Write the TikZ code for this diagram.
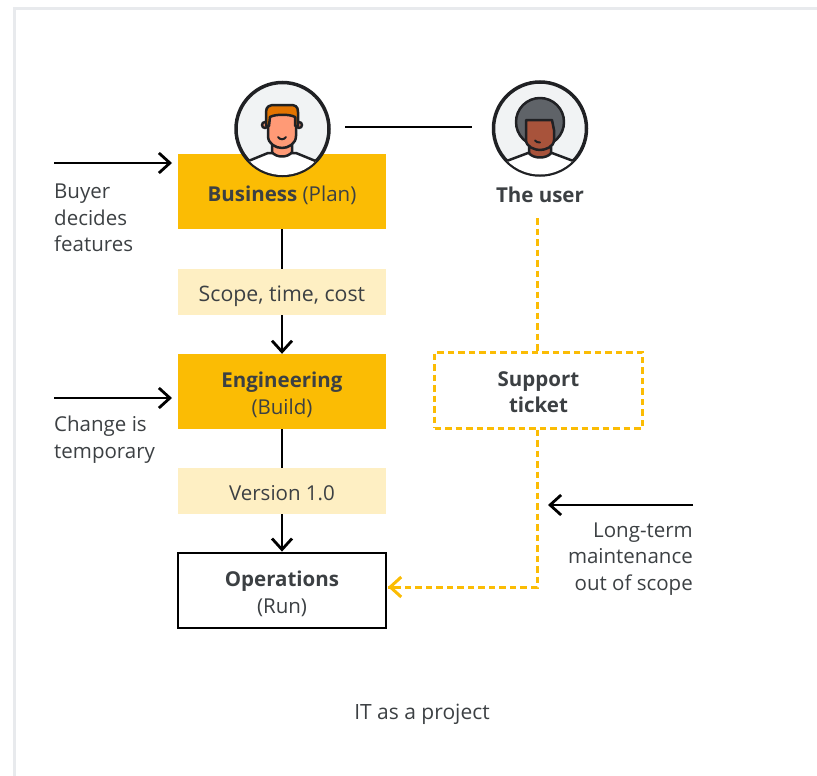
\documentclass[tikz,border=0pt]{standalone}
\usepackage{fontspec}
\setmainfont{Open Sans}
\usetikzlibrary{arrows.meta}
\definecolor{phaseyellow}{HTML}{FBBC04}
\definecolor{notecream}{HTML}{FEEFC3}
\definecolor{inkdark}{HTML}{3C4043}
\definecolor{framegray}{HTML}{E8EAED}
\definecolor{avatarbg}{HTML}{F1F3F4}
\definecolor{linedark}{HTML}{202124}
\definecolor{hairorange}{HTML}{E37400}
\definecolor{skinlight}{HTML}{FF9A76}
\definecolor{skindark}{HTML}{A8533B}
\definecolor{hairgray}{HTML}{5F6368}
\tikzset{
  basebox/.style={rectangle, minimum width=208pt, align=center, inner sep=0pt, text=inkdark, text height=23pt, text depth=4pt, font=\fontsize{20.5}{26.5}\selectfont},
  twolines/.style={text height=49.5pt},
  phasebox/.style={basebox, fill=phaseyellow, minimum height=75pt},
  notebox/.style={basebox, fill=notecream, minimum height=46pt},
  runbox/.style={basebox, draw=black, line width=2.8pt, minimum height=75pt},
  ticketbox/.style={basebox, draw=phaseyellow, line width=3pt, dash pattern=on 6.5pt off 4pt, minimum height=76pt},
  caption/.style={inner sep=0pt, text=inkdark, font=\fontsize{20.5}{26.5}\selectfont},
  flow/.style={line width=2.8pt, black},
  flowarrow/.style={flow, -{Straight Barb[length=11pt, width=20pt, line width=2.8pt]}},
  ticketline/.style={line width=3pt, phaseyellow, dash pattern=on 6.5pt off 4pt},
  avatar/.style={circle, draw=linedark, line width=3.5pt, fill=avatarbg, minimum size=93pt, inner sep=0pt},
  figline/.style={draw=linedark, line width=2.5pt, line join=round}
}
\begin{document}
\begin{tikzpicture}[x=1pt, y=-1pt, node distance=100pt]
    \useasboundingbox (0,0) rectangle (817,776);
    \draw[framegray, line width=3pt] (14.5,776) -- (14.5,8.5) -- (817,8.5);

    % Nodes
    \node (business) [phasebox] at (282,191.5) {\textbf{Business} (Plan)};
    \node (scope) [notebox, below of=business, node distance=100.5pt, font=\fontsize{21.3}{26.5}\selectfont] {Scope, time, cost};
    \node (engineering) [phasebox, twolines, below of=business, node distance=200pt] {\textbf{Engineering}\\(Build)};
    \node (version) [notebox, below of=engineering, node distance=99.5pt] {Version 1.0};
    \node (operations) [runbox, twolines, below of=engineering, node distance=199pt] {\textbf{Operations}\\(Run)};
    \node (ticket) [ticketbox, twolines] at (538.5,390) {\textbf{Support}\\\textbf{ticket}};

    % Avatars
    \node (buyer) [avatar] at (282.5,129) {};
    \begin{scope}
        \clip (282.5,129) circle (46pt);
        \draw[figline, fill=white] (246,162) -- (268,153) -- (296,153) -- (318,162) -- (318,180) -- (246,180) -- cycle;
        \draw[figline, fill=skinlight] (272,140) -- (272,152) .. controls (276,158) and (288,158) .. (292,152) -- (292,140) -- cycle;
        \draw[figline, fill=skinlight] (265,125) circle (3pt) (299,125) circle (3pt);
        \draw[figline, fill=skinlight] (268,112) -- (296,112) -- (296,136) .. controls (296,144) and (288,148) .. (282,148) .. controls (276,148) and (268,144) .. (268,136) -- cycle;
        \draw[figline, fill=hairorange] (266,126) -- (266,112) .. controls (266,106) and (270,105) .. (275,105) -- (290,105) .. controls (295,105) and (298,106) .. (298,112) -- (298,126) -- (295,126) -- (295,117) .. controls (290,114) and (275,114) .. (270,117) -- (269,126) -- cycle;
        \draw[linedark, line width=2pt, line cap=round] (278,137) .. controls (280,140) and (284,140) .. (286,137);
    \end{scope}
    \node (user) [avatar] at (540,128.5) {};
    \begin{scope}
        \clip (540,128.5) circle (46pt);
        \draw[figline, fill=white] (504,162) -- (528,153) -- (552,153) -- (576,162) -- (576,180) -- (504,180) -- cycle;
        \draw[figline, fill=hairgray] (540,122) circle (24pt);
        \draw[figline, fill=skindark] (529,142) -- (529,153) .. controls (533,159) and (547,159) .. (551,153) -- (551,142) -- cycle;
        \draw[figline, fill=skindark] (526,120) -- (552,120) -- (554,130) -- (554,140) .. controls (554,147) and (545,150) .. (540,150) .. controls (535,150) and (526,147) .. (526,140) -- cycle;
        \draw[linedark, line width=2pt, line cap=round] (535,140.5) .. controls (536,142) and (538,142.5) .. (540,142.5);
    \end{scope}

    % Labels
    \node (username) [caption, font=\fontsize{20.5}{26.5}\selectfont\bfseries] at (540,195) {The user};
    \node (buyertext) [caption, anchor=north west, align=left] at (54,184) {Buyer\\decides\\features};
    \node (changetext) [caption, anchor=north west, align=left] at (54,416) {Change is\\temporary};
    \node (longtext) [caption, anchor=north east, align=right] at (693,522.5) {Long-term\\maintenance\\out of scope};
    \node (title) [caption, font=\fontsize{21}{26.5}\selectfont] at (422,714) {IT as a project};

    % Free ends
    \coordinate (buyerstart) at (54,163);
    \coordinate (buyerend) at (172,163);
    \coordinate (changestart) at (54,398);
    \coordinate (changeend) at (172,398);
    \coordinate (longstart) at (693,505);
    \coordinate (longend) at (548,505);
    \coordinate (linkstart) at (345,127);
    \coordinate (linkend) at (472,127);
    \coordinate (ticketin) at (537,218);
    \coordinate (ticketcorner) at (537,587);
    \coordinate (ticketend) at (388,587);

    % Edges
    \draw[flow] (linkstart) -- (linkend);
    \draw[flowarrow] (buyerstart) -- (buyerend);
    \draw[flowarrow] (changestart) -- (changeend);
    \draw[flowarrow] (longstart) -- (longend);
    \draw[flow] (business) -- (scope);
    \draw[flowarrow] (scope) -- (engineering);
    \draw[flow] (engineering) -- (version);
    \draw[flowarrow] (version) -- (operations);
    \draw[ticketline] (ticketin) -- (ticketin |- ticket.north);
    \draw[ticketline] (ticketin |- ticket.south) -- (ticketcorner) -- (ticketend);
    \draw[phaseyellow, line width=3pt, -{Straight Barb[length=11pt, width=20pt, line width=3pt]}] (398,587) -- (ticketend);
\end{tikzpicture}
\end{document}
